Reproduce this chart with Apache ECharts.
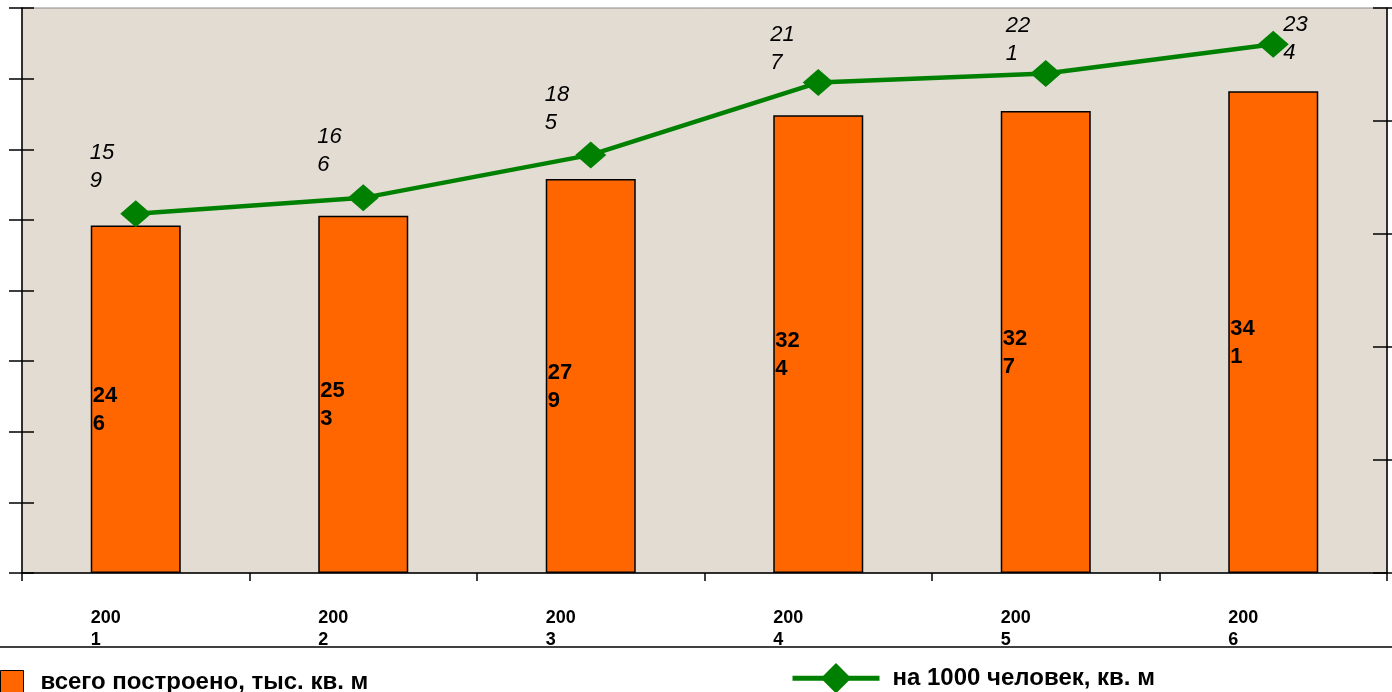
<!DOCTYPE html>
<html>
<head>
<meta charset="utf-8">
<script src="https://cdn.jsdelivr.net/npm/echarts@6/dist/echarts.min.js"></script>
<style>
html,body{margin:0;padding:0;background:#fff;}
#c{width:1392px;height:692px;}
</style>
</head>
<body>
<div id="c"></div>
<script>
const years = ['2001', '2002', '2003', '2004', '2005', '2006'];
const builtTotal = [246, 253, 279, 324, 327, 341];
const per1000 = [159, 166, 185, 217, 221, 234];
const seriesNames = ['всего построено, тыс. кв. м', 'на 1000 человек, кв. м'];
const leftAxis = { min: 0, max: 400, interval: 50 };
const rightAxis = { min: 0, max: 250, interval: 50 };

const FONT = "'Liberation Sans', Arial, sans-serif";
const wrap = (s) => { s = String(s); return s.slice(0, s.length - 1) + '\n' + s.slice(s.length - 1); };

function yAx(pos, cfg, inside, len, show) {
  return {
    type: 'value', position: pos, min: cfg.min, max: cfg.max, interval: cfg.interval,
    axisLine: { show: show, lineStyle: { color: '#000', width: 1.5 } },
    axisTick: { show: true, inside: inside, length: len, lineStyle: { color: '#000', width: 1.5 } },
    axisLabel: { show: false }, splitLine: { show: false }
  };
}

// label placement tweaks (the top labels are pushed down to stay inside the plot)
const lineLabelOffsets = { 3: [-48, 17], 4: [-40, 17], 5: [10, 45] };
const lineData = per1000.map((v, i) => (lineLabelOffsets[i] ? { value: v, label: { offset: lineLabelOffsets[i] } } : v));

const chart = echarts.init(document.getElementById('c'));
chart.setOption({
  animation: false,
  backgroundColor: '#ffffff',
  textStyle: { fontFamily: FONT },
  grid: {
    left: 22, right: 5, top: 8, bottom: 119,
    show: true, backgroundColor: '#E2DCD2', borderColor: '#8a8a8a', borderWidth: 1
  },
  legend: [
    {
      data: [seriesNames[0]], left: 0, top: 670, padding: 0, itemWidth: 23, itemHeight: 24,
      icon: 'rect',
      itemStyle: { borderColor: '#000', borderWidth: 1 },
      textStyle: { fontFamily: FONT, fontSize: 24, fontWeight: 'bold', color: '#000', padding: [0, 0, 10, 12] }
    },
    {
      data: [seriesNames[1]], left: 790, top: 663, padding: 0, itemWidth: 87, itemHeight: 38,
      lineStyle: { width: 5 },
      textStyle: { fontFamily: FONT, fontSize: 24, fontWeight: 'bold', color: '#000', padding: [0, 0, 4, 8] }
    }
  ],
  xAxis: {
    type: 'category', data: years, boundaryGap: true,
    axisLine: { lineStyle: { color: '#000', width: 1.5 } },
    axisTick: { show: true, alignWithLabel: false, length: 8, lineStyle: { color: '#000', width: 1.5 } },
    axisLabel: {
      margin: 34, interval: 0,
      formatter: (v) => '{a|' + v.slice(0, 3) + '}\n{a|' + v.slice(3) + '}',
      rich: { a: { width: 90, align: 'left', fontSize: 18, fontWeight: 'bold', color: '#000', lineHeight: 22, fontFamily: FONT } }
    }
  },
  yAxis: [
    yAx('left', leftAxis, false, 13, true),
    yAx('right', rightAxis, false, 5, true),
    yAx('left', leftAxis, true, 12, false),
    yAx('right', rightAxis, true, 14, false)
  ],
  graphic: [
    { type: 'line', shape: { x1: 0, y1: 647, x2: 1392, y2: 647 }, style: { stroke: '#000', lineWidth: 1.5 } }
  ],
  series: [
    {
      name: seriesNames[0], type: 'bar', yAxisIndex: 0, data: builtTotal, barWidth: 90,
      itemStyle: { color: '#FF6600', borderColor: '#000', borderWidth: 1.5 },
      label: {
        show: true, position: 'insideLeft', distance: 2, offset: [0, 11],
        formatter: (p) => wrap(p.value),
        fontSize: 22, fontWeight: 'bold', color: '#000', lineHeight: 28, fontFamily: FONT, align: 'left'
      }
    },
    {
      name: seriesNames[1], type: 'line', yAxisIndex: 1, data: lineData,
      symbol: 'diamond', symbolSize: [31, 27],
      lineStyle: { color: '#008000', width: 4.5 },
      itemStyle: { color: '#008000' },
      label: {
        show: true, position: 'top', distance: 9, offset: [-46, 4], align: 'left', verticalAlign: 'bottom',
        formatter: (p) => wrap(p.value),
        fontSize: 22, fontStyle: 'italic', color: '#000', lineHeight: 28, fontFamily: FONT
      },
      z: 3
    }
  ]
});
</script>
</body>
</html>
